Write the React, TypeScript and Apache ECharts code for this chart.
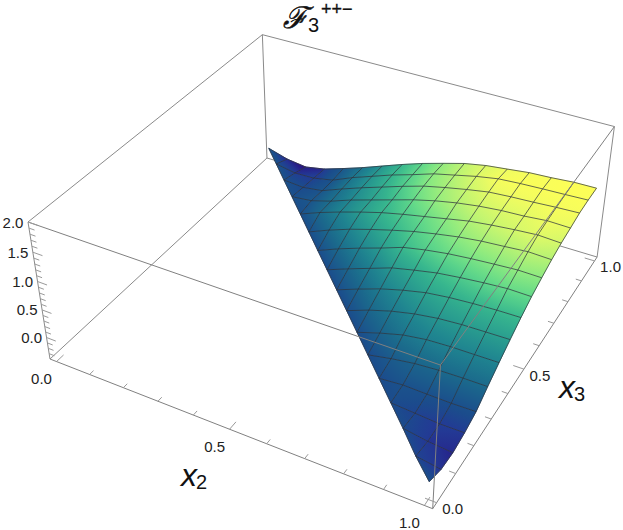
import React, { useEffect, useRef } from "react";
import * as echarts from "echarts";

// Axis values
const x2Ticks = [0, 0.1, 0.2, 0.3, 0.4, 0.5, 0.6, 0.7, 0.8, 0.9, 1];
const x3Ticks = [0, 0.1, 0.2, 0.3, 0.4, 0.5, 0.6, 0.7, 0.8, 0.9, 1];
const zTicks = [-0.3, -0.2, -0.1, 0, 0.1, 0.2, 0.3, 0.4, 0.5, 0.6, 0.7, 0.8, 0.9, 1, 1.1, 1.2, 1.3, 1.4, 1.5, 1.6, 1.7, 1.8, 1.9, 2];
const x2Labels = ["0.0", "0.5", "1.0"];
const x3Labels = ["0.0", "0.5", "1.0"];
const zLabels = ["0.0", "0.5", "1.0", "1.5", "2.0"];
const meshSteps = 16;

// Surface heights. Row index k: x3 = k/16. Each row starts on the
// diagonal x2 + x3 = 1 (j = 16 - k, x2 = j/16) and ends on x2 = 1.
const zRow0 = [-0.08];
const zRow1 = [-0.12, -0.185];
const zRow2 = [-0.1, -0.17, -0.205];
const zRow3 = [-0.1, -0.13, -0.16, -0.156];
const zRow4 = [-0.1, -0.067, -0.077, -0.085, -0.077];
const zRow5 = [-0.1, -0.02, 0.04, 0.07, 0.08, 0.083];
const zRow6 = [-0.1, 0.03, 0.14, 0.2, 0.22, 0.225, 0.23];
const zRow7 = [-0.1, 0.05, 0.17, 0.26, 0.32, 0.35, 0.36, 0.369];
const zRow8 = [-0.1, 0.05, 0.19, 0.3, 0.39, 0.44, 0.47, 0.49, 0.497];
const zRow9 = [-0.1, 0.05, 0.19, 0.33, 0.42, 0.5, 0.55, 0.59, 0.62, 0.613];
const zRow10 = [-0.1, 0.06, 0.2, 0.33, 0.47, 0.55, 0.61, 0.65, 0.68, 0.706, 0.7];
const zRow11 = [-0.1, 0.06, 0.2, 0.32, 0.43, 0.53, 0.61, 0.68, 0.73, 0.76, 0.794, 0.78];
const zRow12 = [-0.1, 0.05, 0.18, 0.3, 0.41, 0.5, 0.58, 0.66, 0.74, 0.79, 0.83, 0.86, 0.84];
const zRow13 = [-0.1, -0.06, 0.05, 0.19, 0.31, 0.43, 0.55, 0.65, 0.73, 0.79, 0.83, 0.85, 0.888, 0.88];
const zRow14 = [-0.1, -0.13, -0.08, 0.07, 0.21, 0.34, 0.47, 0.59, 0.68, 0.76, 0.83, 0.86, 0.88, 0.906, 0.924];
const zRow15 = [-0.1, -0.17, -0.16, -0.085, 0.08, 0.22, 0.36, 0.48, 0.61, 0.7, 0.79, 0.86, 0.888, 0.906, 0.92, 0.937];
const zRow16 = [-0.1, -0.21, -0.258, -0.187, -0.064, 0.067, 0.211, 0.354, 0.486, 0.6, 0.71, 0.784, 0.83, 0.877, 0.898, 0.93, 0.937];
const zRows = [zRow0, zRow1, zRow2, zRow3, zRow4, zRow5, zRow6, zRow7, zRow8, zRow9, zRow10, zRow11, zRow12, zRow13, zRow14, zRow15, zRow16];

// Colour scale over height
const colorZ = [-0.27, -0.16, -0.1, 0.08, 0.23, 0.37, 0.49, 0.61, 0.7, 0.81, 0.9, 0.95];
const colorHex = ["#2a0a80", "#233a95", "#1b4c8c", "#1b6a8c", "#1f8490", "#2a9f8f", "#38b88e", "#60d88a", "#8cea80", "#c4f570", "#f0fc60", "#ffff55"];

// Camera: projective map of the padded plot box
const BOX = { x: [-0.02, 1.02], y: [-0.02, 1.02], z: [-0.4, 2.0] };
const CAM = {
  o: [50, 359],
  u: [332.5, 90.7],
  v: [274.9, -166.7],
  t: [-23.96, -152.54],
  w: [-0.116, 0.217, -0.07],
};

function project(a: number, b: number, c: number): number[] {
  const u = (a - BOX.x[0]) / (BOX.x[1] - BOX.x[0]);
  const v = (b - BOX.y[0]) / (BOX.y[1] - BOX.y[0]);
  const t = (c - BOX.z[0]) / (BOX.z[1] - BOX.z[0]);
  const w = 1 + CAM.w[0] * u + CAM.w[1] * v + CAM.w[2] * t;
  return [
    (CAM.o[0] + u * CAM.u[0] + v * CAM.v[0] + t * CAM.t[0]) / w,
    (CAM.o[1] + u * CAM.u[1] + v * CAM.v[1] + t * CAM.t[1]) / w,
  ];
}

function hexRgb(h: string) {
  return [parseInt(h.slice(1, 3), 16), parseInt(h.slice(3, 5), 16), parseInt(h.slice(5, 7), 16)];
}
function colorOf(z: number): string {
  const n = colorZ.length;
  if (z <= colorZ[0]) return colorHex[0];
  if (z >= colorZ[n - 1]) return colorHex[n - 1];
  let i = 0;
  while (z > colorZ[i + 1]) i++;
  const f = (z - colorZ[i]) / (colorZ[i + 1] - colorZ[i]);
  const a = hexRgb(colorHex[i]);
  const b = hexRgb(colorHex[i + 1]);
  return `rgb(${a.map((v, q) => Math.round(v + (b[q] - v) * f)).join(",")})`;
}

const nodeZ = (j: number, k: number) => zRows[k][j - (meshSteps - k)];
const hasNode = (j: number, k: number) => j <= meshSteps && k <= meshSteps && j + k >= meshSteps;
// Height shifted by the surface's lighting toward the far side of the box
function nodeShade(j: number, k: number) {
  const z = nodeZ(j, k);
  const x2 = j / meshSteps, x3 = k / meshSteps;
  const lit = Math.max(0, Math.min(1, (z + 0.2) / 0.6));
  return z + 0.5 * (1 - x2) * Math.max(0, x3 - 0.5) * lit;
}

const cells: number[][] = [];
for (let k = 0; k < meshSteps; k++) {
  for (let j = 0; j < meshSteps; j++) {
    if (j + k + 2 > meshSteps) cells.push([j, k]);
  }
}

function gradientFor(pts: number[][], zs: number[]) {
  const n = pts.length;
  const mx = pts.reduce((s, p) => s + p[0], 0) / n;
  const my = pts.reduce((s, p) => s + p[1], 0) / n;
  const mz = zs.reduce((s, p) => s + p, 0) / n;
  let sxx = 0, sxy = 0, syy = 0, sxz = 0, syz = 0;
  pts.forEach((p, i) => {
    const dx = p[0] - mx, dy = p[1] - my, dz = zs[i] - mz;
    sxx += dx * dx; sxy += dx * dy; syy += dy * dy; sxz += dx * dz; syz += dy * dz;
  });
  const det = sxx * syy - sxy * sxy;
  if (Math.abs(det) < 1e-6) return colorOf(mz);
  const gx = (sxz * syy - syz * sxy) / det;
  const gy = (syz * sxx - sxz * sxy) / det;
  const g = Math.hypot(gx, gy);
  if (g < 1e-7) return colorOf(mz);
  const ux = gx / g, uy = gy / g;
  const proj = pts.map((p) => (p[0] - mx) * ux + (p[1] - my) * uy);
  const lo = Math.min(...proj), hi = Math.max(...proj);
  const stops = [0, 0.25, 0.5, 0.75, 1].map((o) => ({
    offset: o,
    color: colorOf(mz + g * (lo + (hi - lo) * o)),
  }));
  return new echarts.graphic.LinearGradient(mx + ux * lo, my + uy * lo, mx + ux * hi, my + uy * hi, stops, true);
}

const LOW = BOX.z[0], TOP = BOX.z[1], A0 = BOX.x[0], A1 = BOX.x[1];
type Edge = number[];
const backEdges: Edge[] = [
  [A0, A1, LOW, A1, A1, LOW],
  [A0, A1, LOW, A0, A0, LOW],
  [A0, A1, LOW, A0, A1, TOP],
  [A1, A1, LOW, A1, A1, TOP],
  [A0, A0, LOW, A0, A0, TOP],
  [A0, A0, TOP, A0, A1, TOP],
  [A0, A1, TOP, A1, A1, TOP],
];
const frontEdges: Edge[] = [
  [A0, A0, TOP, A1, A0, TOP],
  [A1, A0, TOP, A1, A1, TOP],
  [A1, A0, LOW, A1, A0, TOP],
  [A0, A0, LOW, A1, A0, LOW],
  [A1, A0, LOW, A1, A1, LOW],
];

const tickLen = (v: number) => (Math.abs(v * 2 - Math.round(v * 2)) < 1e-6 ? 0.028 : 0.016);
const tickSegments: Edge[] = [
  ...x2Ticks.map((v) => [v, A0, LOW, v, A0 + tickLen(v), LOW]),
  ...x3Ticks.map((v) => [A1, v, LOW, A1 - tickLen(v), v, LOW]),
  ...zTicks.map((v) => [A0, A0, v, A0 + tickLen(v), A0, v]),
];

const meshLines: number[][][] = [];
for (let k = 0; k <= meshSteps; k++) {
  const line: number[][] = [];
  for (let j = meshSteps - k; j <= meshSteps; j++) line.push([j, k]);
  if (line.length > 1) meshLines.push(line);
}
for (let j = 0; j <= meshSteps; j++) {
  const line: number[][] = [];
  for (let k = meshSteps - j; k <= meshSteps; k++) line.push([j, k]);
  if (line.length > 1) meshLines.push(line);
}
const diagonal: number[][] = [];
for (let j = 0; j <= meshSteps; j++) diagonal.push([j, meshSteps - j]);
meshLines.push(diagonal);

type Lbl = { t: string; p: number[] };
const axisLabels: Lbl[] = [
  ...x2Labels.map((t) => ({ t, p: project(Number(t), A0, LOW).map((q, i) => q + [-15, 17][i]) })),
  ...x3Labels.map((t) => ({ t, p: project(A1, Number(t), LOW).map((q, i) => q + [16, 6][i]) })),
  ...zLabels.map((t) => ({ t, p: project(A0, A0, Number(t)).map((q, i) => q + [-15, 0][i]) })),
];

export default function App() {
  const ref = useRef<HTMLDivElement>(null);
  useEffect(() => {
    document.body.style.margin = "0";
    const chart = echarts.init(ref.current!, undefined, { renderer: "svg" });
    const font = '"Liberation Sans", Arial, sans-serif';
    const edgeSeries = (name: string, list: Edge[], color: string, width: number, z: number) => ({
      type: "custom",
      name,
      silent: true,
      clip: false,
      z,
      data: list.map((_, i) => [i, 0]),
      renderItem: (params: any, api: any) => {
        const e = list[params.dataIndex];
        const a = api.coord(project(e[0], e[1], e[2]));
        const b = api.coord(project(e[3], e[4], e[5]));
        return {
          type: "line",
          shape: { x1: a[0], y1: a[1], x2: b[0], y2: b[1] },
          style: { stroke: color, lineWidth: width, fill: "none" },
        };
      },
    });
    chart.setOption({
      animation: false,
      backgroundColor: "#ffffff",
      grid: { left: 0, right: 0, top: 0, bottom: 0 },
      xAxis: { type: "value", min: 0, max: 623, show: false },
      yAxis: { type: "value", min: 0, max: 530, inverse: true, show: false },
      graphic: [
        { type: "text", x: 283, y: 2, style: { text: "\u2131", font: 'italic 30px "DejaVu Serif", serif', fill: "#111", stroke: "#111", lineWidth: 0.5 } },
        { type: "text", x: 308, y: 15, style: { text: "3", font: `20px ${font}`, fill: "#111" } },
        { type: "text", x: 321, y: 0, style: { text: "++\u2212", font: `18px ${font}`, fill: "#111", stroke: "#111", lineWidth: 0.3 } },
        { type: "text", x: 181, y: 459, style: { text: "x", font: `italic 32px ${font}`, fill: "#111" } },
        { type: "text", x: 196, y: 472, style: { text: "2", font: `20px ${font}`, fill: "#111" } },
        { type: "text", x: 559, y: 371, style: { text: "x", font: `italic 32px ${font}`, fill: "#111" } },
        { type: "text", x: 574, y: 384, style: { text: "3", font: `20px ${font}`, fill: "#111" } },
      ],
      series: [
        edgeSeries("box back", backEdges, "#8a8a8a", 1, 1),
        {
          type: "custom",
          name: "surface",
          silent: true,
          clip: false,
          z: 2,
          data: cells,
          renderItem: (_: any, api: any) => {
            const j = api.value(0), k = api.value(1);
            const corners = [[j, k], [j + 1, k], [j + 1, k + 1], [j, k + 1]].filter((c) => hasNode(c[0], c[1]));
            const pts = corners.map((c) => api.coord(project(c[0] / meshSteps, c[1] / meshSteps, nodeZ(c[0], c[1]))));
            const fill = gradientFor(pts, corners.map((c) => nodeShade(c[0], c[1])));
            return { type: "polygon", shape: { points: pts }, style: { fill, stroke: fill, lineWidth: 0.7 } };
          },
        },
        {
          type: "custom",
          name: "mesh",
          silent: true,
          clip: false,
          z: 3,
          data: meshLines.map((_, i) => [i, 0]),
          renderItem: (params: any, api: any) => {
            const line = meshLines[params.dataIndex];
            const points = line.map((c) => api.coord(project(c[0] / meshSteps, c[1] / meshSteps, nodeZ(c[0], c[1]))));
            return { type: "polyline", shape: { points }, style: { stroke: "rgba(45,50,60,0.72)", lineWidth: 1, fill: "none" } };
          },
        },
        edgeSeries("box front", frontEdges, "#808080", 1, 4),
        edgeSeries("ticks", tickSegments, "#9a9a9a", 1, 4),
        {
          type: "custom",
          name: "tick labels",
          silent: true,
          clip: false,
          z: 5,
          data: axisLabels.map((_, i) => [i, 0]),
          renderItem: (params: any, api: any) => {
            const l = axisLabels[params.dataIndex];
            const p = api.coord(l.p);
            return {
              type: "text",
              x: p[0],
              y: p[1],
              style: { text: l.t, font: `15px ${font}`, fill: "#222", align: "center", verticalAlign: "middle" },
            };
          },
        },
      ],
    });
    return () => chart.dispose();
  }, []);
  return <div ref={ref} style={{ width: 623, height: 530 }} />;
}
